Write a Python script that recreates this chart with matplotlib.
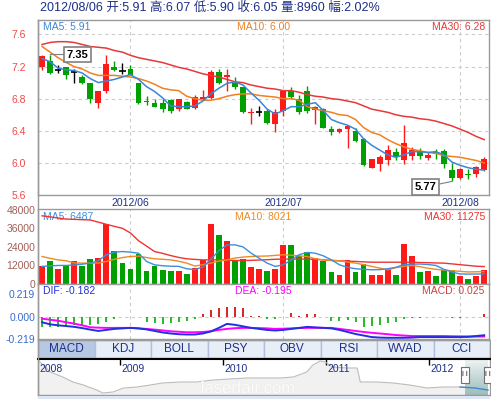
import numpy as np
import matplotlib.pyplot as plt
import matplotlib.patheffects as pe
from matplotlib.patches import Rectangle
from matplotlib.colors import LinearSegmentedColormap

plt.rcParams['font.family'] = ['Liberation Sans', 'Noto Sans CJK SC', 'DejaVu Sans']

# ---- daily K-line, 2012/05/17 .. 2012/08/06
opens = [7.19, 7.27, 7.16, 7.19, 7.13, 7.07, 6.99, 6.75, 6.89, 7.20,
         7.15, 7.17, 6.99, 6.77, 6.75, 6.75, 6.78, 6.67, 6.76, 6.68,
         6.79, 6.81, 7.13, 7.07, 7.00, 6.95, 6.62, 6.64, 6.65, 6.49,
         6.65, 6.90, 6.80, 6.90, 6.66, 6.67, 6.42, 6.38, 6.42, 6.40,
         6.30, 5.94, 5.99, 6.04, 6.14, 6.04, 6.09, 6.15, 6.06, 6.14,
         6.15, 5.91, 5.81, 5.86, 5.86, 5.91]
highs = [7.34, 7.35, 7.22, 7.19, 7.17, 7.09, 6.99, 6.90, 7.34, 7.27,
         7.24, 7.22, 6.99, 6.83, 6.79, 6.79, 6.80, 6.80, 6.77, 6.84,
         6.91, 7.16, 7.17, 7.17, 7.07, 6.95, 6.69, 6.71, 6.67, 6.67,
         6.90, 6.94, 6.85, 6.96, 6.71, 6.69, 6.46, 6.43, 6.47, 6.43,
         6.31, 6.05, 6.10, 6.22, 6.18, 6.47, 6.20, 6.18, 6.13, 6.17,
         6.17, 6.00, 5.94, 5.92, 5.96, 6.07]
lows = [7.16, 7.11, 7.12, 7.05, 7.00, 6.98, 6.75, 6.68, 6.87, 7.15,
        7.11, 7.10, 6.73, 6.72, 6.70, 6.64, 6.62, 6.65, 6.67, 6.67,
        6.78, 6.79, 6.98, 6.90, 6.92, 6.62, 6.48, 6.59, 6.49, 6.38,
        6.58, 6.79, 6.61, 6.62, 6.49, 6.43, 6.35, 6.37, 6.19, 6.26,
        5.96, 5.94, 5.90, 5.97, 6.04, 5.99, 6.04, 6.05, 6.04, 6.05,
        5.94, 5.77, 5.80, 5.80, 5.83, 5.90]
closes = [7.33, 7.12, 7.16, 7.09, 7.13, 6.99, 6.80, 6.90, 7.23, 7.16,
          7.15, 7.10, 6.75, 6.76, 6.70, 6.67, 6.65, 6.80, 6.67, 6.82,
          6.82, 7.13, 7.00, 7.10, 6.94, 6.63, 6.63, 6.64, 6.50, 6.63,
          6.90, 6.82, 6.63, 6.65, 6.70, 6.43, 6.38, 6.42, 6.46, 6.27,
          5.97, 6.05, 6.07, 6.16, 6.07, 6.25, 6.16, 6.09, 6.10, 6.11,
          5.99, 5.81, 5.93, 5.85, 5.95, 6.05]
ma5 = [7.30, 7.26, 7.18, 7.16, 7.15, 7.12, 7.05, 7.00, 7.02, 7.04,
       7.07, 7.10, 7.04, 6.95, 6.89, 6.81, 6.71, 6.70, 6.70, 6.71,
       6.77, 6.86, 6.93, 6.99, 7.01, 6.97, 6.87, 6.78, 6.67, 6.61,
       6.65, 6.70, 6.70, 6.73, 6.75, 6.65, 6.54, 6.50, 6.47, 6.42,
       6.30, 6.22, 6.16, 6.10, 6.07, 6.10, 6.14, 6.14, 6.13, 6.14,
       6.10, 6.01, 5.97, 5.94, 5.92, 5.91]
ma10 = [7.45, 7.38, 7.31, 7.25, 7.20, 7.17, 7.12, 7.09, 7.09, 7.09,
        7.08, 7.07, 7.05, 7.02, 6.98, 6.93, 6.91, 6.90, 6.83, 6.80,
        6.78, 6.78, 6.80, 6.83, 6.85, 6.86, 6.86, 6.84, 6.83, 6.82,
        6.80, 6.80, 6.78, 6.70, 6.67, 6.65, 6.63, 6.60, 6.59, 6.54,
        6.44, 6.38, 6.35, 6.29, 6.24, 6.20, 6.17, 6.15, 6.13, 6.12,
        6.09, 6.08, 6.07, 6.05, 6.03, 6.00]
ma30 = [7.475, 7.50, 7.51, 7.51, 7.50, 7.475, 7.45, 7.44, 7.43, 7.40,
        7.38, 7.34, 7.31, 7.29, 7.27, 7.25, 7.22, 7.19, 7.17, 7.14,
        7.11, 7.09, 7.07, 7.04, 7.01, 7.00, 6.97, 6.95, 6.93, 6.92,
        6.90, 6.90, 6.88, 6.85, 6.83, 6.82, 6.80, 6.79, 6.77, 6.75,
        6.71, 6.67, 6.65, 6.63, 6.60, 6.58, 6.57, 6.55, 6.54, 6.52,
        6.49, 6.46, 6.42, 6.38, 6.33, 6.29]

volumes = [11400, 15000, 9860, 12000, 15000, 11400, 16300, 17100, 38800, 21400,
           13500, 9860, 19300, 8570, 11400, 9200, 8570, 8570, 6640, 10300,
           15600, 38800, 31700, 27900, 15600, 16300, 10700, 9860, 8570, 9860,
           24900, 25300, 17800, 20400, 17100, 14600, 7500, 5570, 15600, 7500,
           13100, 5570, 5570, 9860, 5570, 25900, 18200, 7500, 8140, 4930,
           9200, 9200, 4930, 3430, 4930, 8960]
vol_ma5 = [11400, 11700, 12000, 12000, 12300, 12800, 13500, 15000, 18900, 20600,
           21000, 20600, 19900, 14600, 12400, 11800, 11500, 11400, 9860, 9300,
           11000, 16000, 21500, 25300, 25300, 24000, 20000, 16700, 13500, 11400,
           12400, 15500, 19000, 20400, 19900, 18200, 15600, 12400, 10800, 9860,
           9500, 9200, 9300, 9860, 10800, 12500, 12900, 12900, 12600, 12000,
           9500, 7700, 6500, 6400, 6450, 6487]
vol_ma10 = [17800, 16600, 15600, 15000, 13600, 13500, 13500, 13500, 14600, 16000,
            17100, 17800, 18000, 17100, 16300, 16000, 15600, 14700, 13500, 11600,
            12500, 13500, 14800, 15600, 16800, 17400, 17800, 18000, 18100, 18500,
            18900, 18600, 18200, 17800, 16300, 15600, 15200, 15000, 14200, 13500,
            12500, 11400, 10300, 9200, 10500, 11400, 12000, 11200, 10200, 9500,
            9000, 8570, 8200, 7800, 7900, 8021]
vol_ma30 = [44100, 43400, 42700, 42000, 41800, 41600, 41400, 40000, 38600, 37300,
            36000, 33000, 28000, 24500, 21000, 19800, 18400, 17200, 16300, 15900,
            15600, 15600, 15600, 15400, 15200, 15200, 15300, 15500, 15700, 16000,
            16100, 16100, 16100, 16100, 15900, 15600, 15300, 15000, 14800, 14600,
            14300, 14100, 14100, 14100, 14100, 14100, 14100, 13900, 13800, 13600,
            13500, 13000, 12500, 12000, 11500, 11275]

dif = [-0.055, -0.075, -0.085, -0.092, -0.100, -0.112, -0.127, -0.140, -0.130, -0.120,
       -0.115, -0.110, -0.115, -0.125, -0.140, -0.155, -0.165, -0.172, -0.175, -0.175,
       -0.165, -0.145, -0.110, -0.071, -0.080, -0.095, -0.110, -0.120, -0.130, -0.136,
       -0.130, -0.120, -0.110, -0.100, -0.105, -0.110, -0.115, -0.130, -0.150, -0.170,
       -0.185, -0.200, -0.205, -0.207, -0.207, -0.207, -0.205, -0.200, -0.200, -0.200,
       -0.200, -0.200, -0.200, -0.198, -0.190, -0.182]
dea = [-0.020, -0.030, -0.040, -0.055, -0.068, -0.085, -0.104, -0.108, -0.110, -0.110,
       -0.110, -0.110, -0.115, -0.120, -0.127, -0.135, -0.143, -0.148, -0.153, -0.153,
       -0.150, -0.143, -0.130, -0.120, -0.113, -0.110, -0.110, -0.112, -0.115, -0.120,
       -0.118, -0.115, -0.112, -0.110, -0.110, -0.110, -0.110, -0.120, -0.130, -0.140,
       -0.150, -0.158, -0.165, -0.172, -0.180, -0.185, -0.190, -0.190, -0.190, -0.190,
       -0.190, -0.192, -0.193, -0.194, -0.195, -0.195]
macd = [-0.097, -0.104, -0.104, -0.091, -0.081, -0.081, -0.081, -0.075, -0.049, -0.023,
        0.0, 0.0, 0.0, -0.055, -0.065, -0.071, -0.065, -0.049, -0.042, -0.023,
        0.026, 0.065, 0.088, 0.097, 0.097, 0.081, 0.010, 0.005, -0.023, -0.026,
        0.0, 0.032, 0.005, 0.026, 0.026, 0.0, -0.042, -0.042, -0.032, -0.049,
        -0.097, -0.091, -0.081, -0.065, -0.049, -0.023, -0.016, -0.010, 0.0, 0.0,
        0.0, -0.016, -0.016, 0.0, 0.0, 0.025]

month_idx = [11, 30, 52]
month_labels = ['2012/06', '2012/07', '2012/08']
tabs = ['MACD', 'KDJ', 'BOLL', 'PSY', 'OBV', 'RSI', 'WVAD', 'CCI']

# long-term overview line (year, level)
ov_years = [2008.20, 2008.32, 2008.44, 2008.54, 2008.64, 2008.77, 2008.83, 2008.93,
            2009.03, 2009.16, 2009.29, 2009.41, 2009.58, 2009.74, 2009.90, 2010.06,
            2010.23, 2010.38, 2010.55, 2010.68, 2010.81, 2010.87, 2010.94, 2010.99,
            2011.06, 2011.20, 2011.30, 2011.33, 2011.49, 2011.65, 2011.81, 2011.98,
            2012.13, 2012.30, 2012.44, 2012.57]
ov_level = [38, 26, 21, 16, 13, 8, 5, 6, 10, 11, 13, 15, 16, 16, 18, 19,
            20, 20, 20, 21, 26, 33, 37, 36, 31, 30, 30, 16, 16, 15, 13, 10,
            11, 11, 10, 8]
ov_ticks = [2009, 2010, 2011, 2012]
win_start, win_end = 2012.35, 2012.57

RED = '#ff1a1a'
GREEN = '#00a000'
NAVY = '#1c2f86'
GRIDC = '#cccccc'
BORDER = '#9a9a9a'

W, H = 491, 399
fig = plt.figure(figsize=(W / 100, H / 100), dpi=100)


def panel(x0, y0, x1, y1):
    return fig.add_axes([x0 / W, 1 - y1 / H, (x1 - x0) / W, (y1 - y0) / H])


def corner_label(ax, txt, where, color, dy):
    xy = {'l': (0, 1), 'c': (0.5, 1), 'r': (1, 1)}[where]
    dx = {'l': 3.5, 'c': 0, 'r': -3}[where]
    ha = {'l': 'left', 'c': 'center', 'r': 'right'}[where]
    ax.annotate(txt, xy=xy, xycoords='axes fraction', xytext=(dx, -dy),
                textcoords='offset points', ha=ha, va='center',
                fontsize=7.5, color=color, zorder=1)


def frame(ax):
    for s in ax.spines.values():
        s.set_color(BORDER)
        s.set_linewidth(1)


o = np.array(opens)
h = np.array(highs)
l = np.array(lows)
c = np.array(closes)
x = np.arange(len(c))
up = c > o
down = c < o
flat = ~(up | down)
ccol = np.where(up, RED, np.where(down, GREEN, 'black'))
prev = np.concatenate([[c[0]], c[:-1]])
vcol = np.where(up | (flat & (c >= prev)), RED, GREEN)
xlim = (-0.5, 55.6)

fig.text(40 / W, 1 - 8 / H, '2012/08/06 开:5.91 高:6.07 低:5.90 收:6.05 量:8960 幅:2.02%',
         fontsize=9, color=NAVY, va='center', ha='left')

# ---- price panel
ax = panel(38, 20, 489, 195)
ax.vlines(x, l, h, colors=ccol, lw=1, zorder=2)
ax.bar(x[~flat], np.abs(c - o)[~flat], bottom=np.minimum(o, c)[~flat],
       width=0.72, color=ccol[~flat], lw=0, zorder=3)
ax.hlines(c[flat], x[flat] - 0.4, x[flat] + 0.4, colors='black', lw=1.2, zorder=3)
ax.plot(x, ma30, color='#e83838', lw=1.1, zorder=4)
ax.plot(x, ma10, color='#f08020', lw=1.1, zorder=4)
ax.plot(x, ma5, color='#3a86d8', lw=1.1, zorder=4)
ax.set_xlim(*xlim)
ax.set_ylim(5.6, 7.78)
ax.set_yticks([5.6, 6.0, 6.4, 6.8, 7.2, 7.6])
ax.set_yticklabels(['%.1f' % v for v in [5.6, 6.0, 6.4, 6.8, 7.2, 7.6]])
ax.set_xticks(month_idx)
ax.set_xticklabels(month_labels)
ax.tick_params(axis='y', length=0, pad=9, labelsize=7.5, labelcolor='#f04848')
ax.tick_params(axis='x', length=0, pad=2, labelsize=7.5, labelcolor=NAVY)
ax.grid(True, color=GRIDC, ls=(0, (3, 3)), lw=0.8)
ax.set_axisbelow(True)
frame(ax)
corner_label(ax, 'MA5: 5.91', 'l', '#3a86d8', 5)
corner_label(ax, 'MA10: 6.00', 'c', '#f08020', 5)
corner_label(ax, 'MA30: 6.28', 'r', '#e83838', 5)

box = dict(boxstyle='square,pad=0.25', fc='white', ec='#808080', lw=1.2)
line = dict(arrowstyle='-', color='#808080', lw=0.8, shrinkA=0, shrinkB=0)
ih = int(np.argmax(h))
ax.annotate('%.2f' % h[ih], xy=(ih, h[ih]), xytext=(20, 0), textcoords='offset points',
            ha='center', va='center', fontsize=8, fontweight='bold', bbox=box,
            arrowprops=line, zorder=6, annotation_clip=False)
il = int(np.argmin(l))
ax.annotate('%.2f' % l[il], xy=(il, l[il]), xytext=(-19, -4), textcoords='offset points',
            ha='center', va='center', fontsize=8, fontweight='bold', bbox=box,
            arrowprops=line, zorder=6, annotation_clip=False)

# ---- volume panel
av = panel(38, 209, 489, 284)
av.bar(x, volumes, width=0.72, color=vcol, lw=0, zorder=2)
av.plot(x, vol_ma30, color='#ee3333', lw=1, zorder=4)
av.plot(x, vol_ma10, color='#f08a24', lw=1, zorder=4)
av.plot(x, vol_ma5, color='#3d8ee0', lw=1, zorder=4)
av.set_xlim(*xlim)
av.set_ylim(0, 48500)
av.set_yticks([0, 12000, 24000, 36000, 48000])
av.set_xticks(month_idx)
av.set_xticklabels([])
av.tick_params(axis='y', length=0, pad=2, labelsize=7.5, labelcolor='#a06058')
av.tick_params(axis='x', length=0)
av.grid(True, axis='x', color=GRIDC, ls=(0, (3, 3)), lw=0.8)
av.set_axisbelow(True)
frame(av)
corner_label(av, 'MA5: 6487', 'l', '#3d8ee0', 5.8)
corner_label(av, 'MA10: 8021', 'c', '#f08a24', 5.8)
corner_label(av, 'MA30: 11275', 'r', '#ee3333', 5.8)

# ---- MACD panel
am = panel(38, 284, 489, 339)
m = np.array(macd)
am.vlines(x, 0, m, colors=np.where(m >= 0, '#cc0000', '#00b000'), lw=1.2, zorder=2)
am.plot(x, dea, color='#ff00ff', lw=1.4, zorder=3)
am.plot(x, dif, color='#2030e0', lw=1.4, zorder=4)
am.axhline(0, color=GRIDC, ls=(0, (3, 3)), lw=0.8, zorder=1)
am.set_xlim(*xlim)
am.set_ylim(-0.219, 0.32)
am.set_yticks([-0.219, 0, 0.219])
am.set_yticklabels(['-0.219', '0.000', '0.219'])
am.set_xticks(month_idx)
am.set_xticklabels([])
am.tick_params(axis='y', length=0, pad=2, labelsize=7.5, labelcolor='#3a6ccc')
am.tick_params(axis='x', length=0)
am.grid(True, axis='x', color=GRIDC, ls=(0, (3, 3)), lw=0.8)
am.set_axisbelow(True)
frame(am)
corner_label(am, 'DIF: -0.182', 'l', '#2030e0', 4.8)
corner_label(am, 'DEA: -0.195', 'c', '#ff00ff', 4.8)
corner_label(am, 'MACD: 0.025', 'r', '#d04040', 4.8)

# ---- indicator tabs
at = panel(38, 340, 490, 358)
tab_col = ['#b6c8e4'] + ['#e8eef8'] * (len(tabs) - 1)
at.bar(np.arange(len(tabs)) + 0.5, 1, width=1, color=tab_col, edgecolor='#b0c0dc', lw=1)
for i, t in enumerate(tabs):
    at.text(i + 0.5, 0.5, t, ha='center', va='center', fontsize=8.5, color=NAVY)
at.set_xlim(0, len(tabs))
at.set_ylim(0, 1)
at.set_xticks([])
at.set_yticks([])
frame(at)

# ---- overview
ov = panel(38, 359, 490, 395)
ov.fill_between(ov_years, ov_level, 0, color='#f1f1f1', lw=0)
ov.plot(ov_years, ov_level, color='#bcbcbc', lw=0.8)
ov.set_xlim(2008.2, 2012.59)
ov.set_ylim(3, 39)
grad = LinearSegmentedColormap.from_list('sel', ['#9fbcbc', '#eef4f4'])
ov.imshow(np.linspace(0, 1, 50).reshape(-1, 1), cmap=grad, origin='lower', aspect='auto',
          extent=(win_start, win_end, 3, 39), zorder=2)
yr = np.array(ov_years)
sel = yr >= 2012.30
ov.plot(yr[sel], np.array(ov_level)[sel], color='#3a8ad0', lw=1, zorder=3)
ov.text(0.465, 0.18, 'laserfair.com', transform=ov.transAxes, ha='center', va='center',
        fontsize=12, color='#fbfbfb', zorder=2,
        path_effects=[pe.withStroke(linewidth=0.8, foreground='#ececec')])
hw = 0.037
for wx in (win_start, win_end):
    ov.add_patch(Rectangle((wx - hw, 15), 2 * hw, 16, fc='white', ec='#707070', lw=0.8,
                           zorder=5, clip_on=False))
    ov.text(wx, 23, 'I I', ha='center', va='center', fontsize=5, color='black', zorder=6)
ov.set_xticks(ov_ticks)
ov.xaxis.tick_top()
ov.tick_params(axis='x', direction='in', length=4, width=1, color='black', labeltop=False)
ov.set_yticks([])
for yv in ov_ticks:
    ov.annotate(str(yv), xy=(yv, 1), xycoords=('data', 'axes fraction'), xytext=(1, -7.5),
                textcoords='offset points', ha='left', va='center', fontsize=7.5, color=NAVY)
ov.annotate('2008', xy=(0, 1), xycoords='axes fraction', xytext=(1, -7.5),
            textcoords='offset points', ha='left', va='center', fontsize=7.5, color=NAVY)
frame(ov)
ov.spines['top'].set_color('black')
ov.spines['top'].set_linewidth(1.5)

fig.patches.append(Rectangle((38 / W, 0), 452 / W, 3.5 / H, transform=fig.transFigure,
                             fc='#dde6f2', ec='none'))
fig.lines.append(plt.Line2D([38 / W, 38 / W], [1 - 395 / H, 1 - 20 / H],
                            transform=fig.transFigure, color=BORDER, lw=1))

fig.savefig('out.png', dpi=100)
